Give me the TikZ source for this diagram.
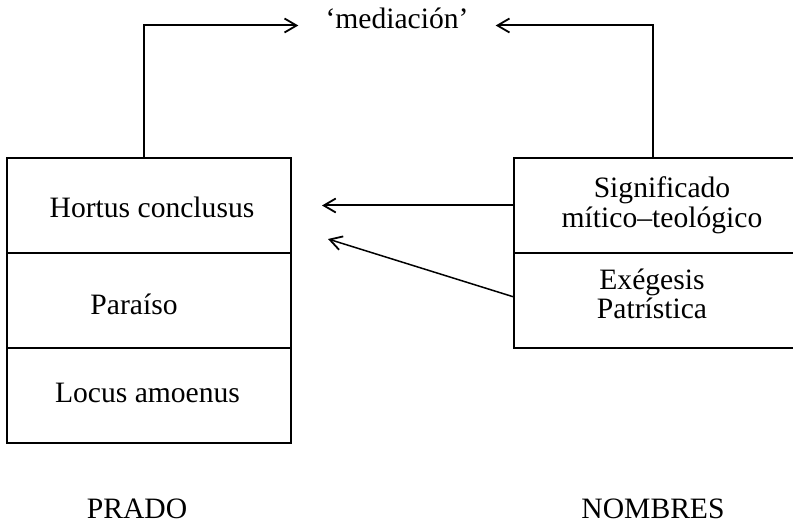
\documentclass[tikz,border=0pt]{standalone}
\usepackage{fontspec}
\setmainfont{Liberation Serif}
\usetikzlibrary{arrows.meta}
\begin{document}
\begin{tikzpicture}[x=1pt,y=-1pt,
  cellbox/.style={draw, line width=2.2pt, minimum width=284pt, minimum height=95pt, inner sep=0pt, outer sep=0pt, anchor=north west},
  rcellbox/.style={cellbox, minimum width=281pt},
  lbl/.style={font=\fontsize{29.6}{29.5}\selectfont, align=center, inner sep=0pt},
  conn/.style={line width=2pt, -{Straight Barb[length=12pt,width=14pt,line width=1.8pt]}},
  thinconn/.style={conn, line width=1.5pt},
]
\useasboundingbox (0,0) rectangle (793,524);
% left column
\node[cellbox] (hortus) at (7,158) {};
\node[cellbox] (paraiso) at (7,253) {};
\node[cellbox] (locus) at (7,348) {};
\node[lbl] (thortus) at (152,207) {Hortus conclusus};
\node[lbl] (tparaiso) at (134,304) {Paraíso};
\node[lbl] (tlocus) at (147.5,393) {Locus amoenus};
% right column
\node[rcellbox] (sig) at (514,158) {};
\node[rcellbox] (exeg) at (514,253) {};
\node[lbl] (tsig) at (662,205.5) {Significado\\mítico–teológico};
\node[lbl] (texeg) at (652,294) {Exégesis\\Patrística};
% top
\node[lbl, inner xsep=27pt, text height=14pt, text depth=7pt] (med) at (397,25.5) {‘mediación’};
% bottom titles
\node[lbl] (prado) at (137,509) {PRADO};
\node[lbl] (nombres) at (653,509) {NOMBRES};
% connectors
\draw[conn] ([xshift=-5pt]hortus.north) |- (med.west);
\draw[conn] ([xshift=-1.5pt]sig.north) |- (med.east);
\coordinate (h1) at (322,205.5);
\coordinate (h2) at (328,239);
\draw[conn] (sig.west) -- (h1);
\draw[thinconn] ([yshift=3.5pt]exeg.west) -- (h2);
\end{tikzpicture}
\end{document}
